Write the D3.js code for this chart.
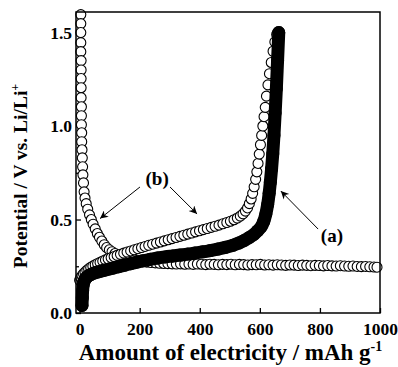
<!DOCTYPE html>
<html>
<head>
<meta charset="utf-8">
<script src="https://cdn.jsdelivr.net/npm/d3@7"></script>
<style>
  body { margin: 0; background: #fff; }
  svg { display: block; }
  text { font-family: "Liberation Serif", "Times New Roman", serif; font-weight: bold; fill: #000; }
</style>
</head>
<body>
<svg id="chart" width="398" height="367"></svg>
<script>

// curve (a), filled markers (charge)
let aCapacity = [8, 9, 10, 12, 15, 19, 24, 30, 38, 47, 57, 67, 80, 95, 110, 130, 150, 170, 190, 210, 235, 260, 285, 310, 335, 360, 385, 410, 435, 460, 485, 510, 530, 548, 565, 580, 593, 604, 613, 620, 626, 631, 635, 639, 643, 647, 651, 655, 659, 663]
let aPotential = [0.04, 0.08, 0.12, 0.15, 0.17, 0.183, 0.192, 0.2, 0.207, 0.213, 0.218, 0.222, 0.228, 0.234, 0.24, 0.248, 0.256, 0.264, 0.272, 0.279, 0.287, 0.294, 0.3, 0.305, 0.31, 0.315, 0.321, 0.327, 0.334, 0.342, 0.351, 0.362, 0.374, 0.388, 0.404, 0.42, 0.44, 0.46, 0.49, 0.53, 0.58, 0.64, 0.7, 0.77, 0.85, 0.95, 1.07, 1.2, 1.35, 1.5]

// curve (b), open markers, charge
let bChargeCapacity = [0, 4, 8, 13, 18, 24, 30, 37, 44, 52, 60, 68, 77, 86, 95, 105, 115, 125, 136, 147, 158, 170, 182, 194, 206, 218, 230, 243, 256, 269, 282, 295, 308, 321, 334, 347, 360, 373, 386, 399, 412, 425, 438, 451, 464, 477, 490, 502, 514, 525, 535, 544, 552, 559, 565, 571, 576, 581, 586, 590, 594, 598, 602, 606, 610, 614, 618, 622, 627, 632, 638, 644, 650, 656]
let bChargePotential = [0.175, 0.19, 0.2, 0.21, 0.219, 0.228, 0.236, 0.244, 0.251, 0.258, 0.265, 0.271, 0.278, 0.284, 0.29, 0.296, 0.302, 0.308, 0.314, 0.32, 0.326, 0.332, 0.338, 0.344, 0.35, 0.356, 0.362, 0.368, 0.374, 0.38, 0.386, 0.392, 0.398, 0.404, 0.41, 0.416, 0.422, 0.428, 0.434, 0.44, 0.446, 0.452, 0.458, 0.464, 0.47, 0.477, 0.484, 0.491, 0.499, 0.508, 0.518, 0.53, 0.545, 0.562, 0.585, 0.61, 0.64, 0.675, 0.715, 0.755, 0.8, 0.85, 0.9, 0.95, 1.0, 1.05, 1.1, 1.16, 1.22, 1.28, 1.34, 1.4, 1.45, 1.49]

// curve (b), open markers, discharge
let bDischargeCapacity = [4, 4, 4, 4, 4, 5, 5, 5, 5, 5, 6, 6, 6, 7, 7, 8, 9, 10, 11, 13, 15, 18, 22, 27, 33, 39, 45, 52, 59, 66, 74, 82, 90, 99, 108, 118, 128, 140, 154, 168, 182, 196, 210, 224, 238, 252, 266, 280, 294, 308, 322, 336, 350, 364, 378, 392, 406, 420, 434, 448, 462, 476, 490, 504, 518, 532, 546, 560, 574, 588, 602, 616, 630, 644, 658, 672, 686, 700, 714, 728, 742, 756, 770, 784, 798, 812, 826, 840, 854, 868, 882, 896, 910, 924, 938, 952, 966, 980, 990]
let bDischargePotential = [1.596, 1.548, 1.5, 1.446, 1.398, 1.35, 1.3, 1.254, 1.205, 1.152, 1.103, 1.055, 1.007, 0.964, 0.916, 0.873, 0.83, 0.782, 0.739, 0.696, 0.648, 0.615, 0.585, 0.555, 0.525, 0.5, 0.475, 0.45, 0.425, 0.405, 0.385, 0.365, 0.35, 0.338, 0.328, 0.318, 0.31, 0.302, 0.295, 0.289, 0.284, 0.279, 0.275, 0.272, 0.27, 0.268, 0.266, 0.265, 0.264, 0.263, 0.262, 0.263, 0.261, 0.262, 0.26, 0.262, 0.261, 0.259, 0.261, 0.26, 0.258, 0.26, 0.259, 0.261, 0.258, 0.26, 0.259, 0.257, 0.259, 0.258, 0.26, 0.257, 0.258, 0.256, 0.258, 0.257, 0.255, 0.257, 0.256, 0.254, 0.256, 0.255, 0.253, 0.255, 0.254, 0.252, 0.254, 0.252, 0.251, 0.253, 0.251, 0.25, 0.251, 0.249, 0.248, 0.249, 0.247, 0.246, 0.245]

let xTicks = [0, 200, 400, 600, 800, 1000]
let yTicks = [0, 0.5, 1.0, 1.5]
let yMinorTicks = [0.25, 0.75, 1.25]

// annotations, in data units
let labelText = ["(b)", "(a)"]
let labelAt = [[258, 0.685], [840, 0.38]]
let arrowFrom = [[201, 0.674], [301, 0.674], [794, 0.449]]
let arrowTo = [[68, 0.505], [391, 0.53], [670, 0.652]]

let svg = d3.select("#chart")

let plotLeft = 76, plotRight = 380, plotTop = 12, plotBottom = 313

let x = d3.scaleLinear().domain([-12, 1000]).range([plotLeft, plotRight])
let y = d3.scaleLinear().domain([0, 1.61]).range([plotBottom, plotTop])

function pairs(cap, pot) {
  return cap.map(function(c, i) { return [c, pot[i]] })
}

// axes with inward ticks
svg.append("g")
   .attr("transform", "translate(0," + plotBottom + ")")
   .call(d3.axisBottom(x).tickValues(xTicks).tickFormat(d3.format("d")).tickSizeInner(-5).tickSizeOuter(0).tickPadding(10))

svg.append("g")
   .attr("transform", "translate(" + plotLeft + ",0)")
   .call(d3.axisLeft(y).tickValues(yTicks).tickFormat(d3.format(".1f")).tickSizeInner(-5).tickSizeOuter(0).tickPadding(4))

svg.append("g")
   .attr("transform", "translate(" + plotLeft + ",0)")
   .call(d3.axisLeft(y).tickValues(yMinorTicks).tickFormat("").tickSizeInner(-3).tickSizeOuter(0))

svg.selectAll(".domain").remove()
svg.selectAll(".tick line").attr("stroke", "#000").attr("stroke-width", 1.3)
svg.selectAll(".tick text")
   .style("font-family", "'Liberation Serif', serif")
   .style("font-weight", "bold")
   .style("font-size", "17.5px")
   .attr("fill", "#000")

// open markers, discharge (b)
svg.append("g")
   .selectAll("circle")
   .data(pairs(bDischargeCapacity, bDischargePotential))
   .enter()
   .append("circle")
   .attr("cx", function(d) { return x(d[0]) })
   .attr("cy", function(d) { return y(d[1]) })
   .attr("r", 5)
   .attr("fill", "#fff")
   .attr("stroke", "#000")
   .attr("stroke-width", 1.1)

// open markers, charge (b)
svg.append("g")
   .selectAll("circle")
   .data(pairs(bChargeCapacity, bChargePotential))
   .enter()
   .append("circle")
   .attr("cx", function(d) { return x(d[0]) })
   .attr("cy", function(d) { return y(d[1]) })
   .attr("r", 5)
   .attr("fill", "#fff")
   .attr("stroke", "#000")
   .attr("stroke-width", 1.1)

// filled markers (a): so dense they make a solid band
let aData = pairs(aCapacity, aPotential)
let line = d3.line()
  .x(function(d) { return x(d[0]) })
  .y(function(d) { return y(d[1]) })
  .curve(d3.curveCatmullRom)

svg.append("path")
   .datum(aData)
   .attr("d", line)
   .attr("fill", "none")
   .attr("stroke", "#000")
   .attr("stroke-width", 13)
   .attr("stroke-linecap", "round")
   .attr("stroke-linejoin", "round")

svg.append("g")
   .selectAll("circle")
   .data(aData)
   .enter()
   .append("circle")
   .attr("cx", function(d) { return x(d[0]) })
   .attr("cy", function(d) { return y(d[1]) })
   .attr("r", 6.5)
   .attr("fill", "#000")

// frame
svg.append("rect")
   .attr("x", plotLeft)
   .attr("y", plotTop)
   .attr("width", plotRight - plotLeft)
   .attr("height", plotBottom - plotTop)
   .attr("fill", "none")
   .attr("stroke", "#000")
   .attr("stroke-width", 1.5)

// arrows and labels
svg.append("defs")
   .append("marker")
   .attr("id", "head")
   .attr("viewBox", "0 0 10 10")
   .attr("refX", 10)
   .attr("refY", 5)
   .attr("markerUnits", "userSpaceOnUse")
   .attr("markerWidth", 9)
   .attr("markerHeight", 8)
   .attr("orient", "auto")
   .append("path")
   .attr("d", "M0,0 L10,5 L0,10 L3,5 z")
   .attr("fill", "#000")

svg.append("g")
   .selectAll("line")
   .data(arrowFrom)
   .enter()
   .append("line")
   .attr("x1", function(d) { return x(d[0]) })
   .attr("y1", function(d) { return y(d[1]) })
   .attr("x2", function(d, i) { return x(arrowTo[i][0]) })
   .attr("y2", function(d, i) { return y(arrowTo[i][1]) })
   .attr("stroke", "#000")
   .attr("stroke-width", 1)
   .attr("marker-end", "url(#head)")

svg.append("g")
   .selectAll("text")
   .data(labelText)
   .enter()
   .append("text")
   .attr("x", function(d, i) { return x(labelAt[i][0]) })
   .attr("y", function(d, i) { return y(labelAt[i][1]) })
   .attr("text-anchor", "middle")
   .style("font-size", "19px")
   .text(function(d) { return d })

// axis titles
let xTitle = svg.append("text")
  .attr("x", 230.5)
  .attr("y", 360)
  .attr("text-anchor", "middle")
  .style("font-size", "23px")

xTitle.append("tspan").text("Amount of electricity / mAh g")
xTitle.append("tspan").attr("dy", -9).style("font-size", "14px").text("-1")

let yTitle = svg.append("text")
  .attr("transform", "translate(27,176) rotate(-90)")
  .attr("text-anchor", "middle")
  .style("font-size", "19.5px")

yTitle.append("tspan").text("Potential / V vs. Li/Li")
yTitle.append("tspan").attr("dy", -8).style("font-size", "12px").text("+")

</script>
</body>
</html>
